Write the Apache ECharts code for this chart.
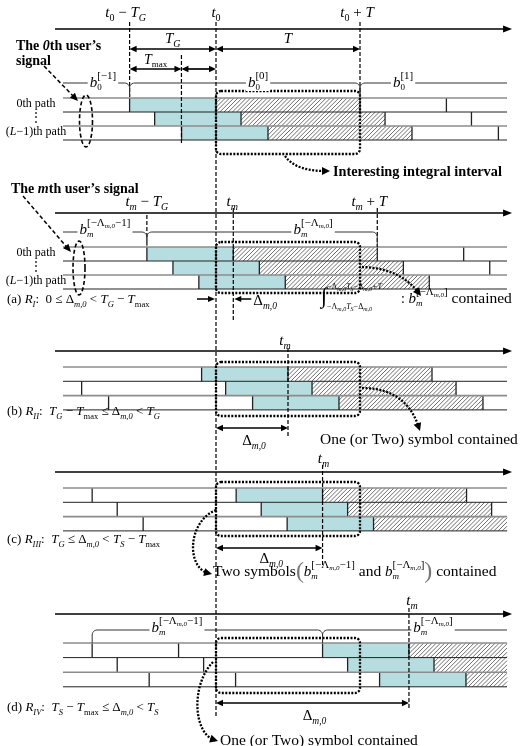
<!DOCTYPE html>
<html>
<head>
<meta charset="utf-8">
<script src="https://cdn.jsdelivr.net/npm/echarts@6/dist/echarts.min.js"></script>
<style>
html,body{margin:0;padding:0;background:#fff;}
#chart{width:520px;height:746px;}
</style>
</head>
<body>
<div id="chart"></div>
<script>
// ---------- values (time unit: T = 1, origin at t0) ----------
const T = 1.0;          // useful symbol (data) length
const TG = 0.6;         // guard interval
const Tmax = 0.36;      // maximum path delay
const TS = TG + T;      // symbol period
const panelIds = [0, 1, 2, 3, 4];                 // 0th user, (a)..(d)
const deltas = [0, 0.12, 0.5, 0.74, 1.34];        // Δm,0 = t_m − t_0 of each panel
const pathDelays = [                               // delays of 0th, middle, (L−1)th path
  [0, 0.174, 0.361],
  [0, 0.181, 0.361],
  [0, 0.167, 0.354],
  [0, 0.174, 0.354],
  [0, 0.174, 0.396]
];
const integralInterval = [0, T];                  // interesting integral interval (relative to t0)
const pathLabels = ['0th path', '\u22EE', '(L\u22121)th path'];
const regionTags = ['', '(a)', '(b)', '(c)', '(d)'];
const regionNames = ['', 'I', 'II', 'III', 'IV'];

// ---------- layout & style ----------
const X_RANGE = [-1.5, 304 / 144];
const ROW_SPAN = [-1.0625, 2.021];
const AXIS_SPAN = [-1.118, 2.056];
const CYAN = '#b6dde0';
const LAYOUT = [
  { axisY: 29, labY: 13, rowTop: 98, rowH: 14, box: [91, 154], labDx: [-4, 0, -3] },
  { axisY: 213, labY: 202, rowTop: 247, rowH: 14, box: [242, 293], labDx: [0, -1, -8], regY: 300 },
  { axisY: 351, labY: 341, rowTop: 367, rowH: 14.3, box: [362, 416], labDx: [-3], tmLine: [348, 438], dY: 428, regY: 412 },
  { axisY: 472, labY: 459, rowTop: 488, rowH: 14.3, box: [482, 536], labDx: [1], tmLine: [465, 565], dY: 548, regY: 540 },
  { axisY: 614, labY: 601, rowTop: 643, rowH: 14.6, box: [638, 693], labDx: [3], tmLine: [608, 708], dY: 703, regY: 708 }
];

const SERIF = '"Liberation Serif","Times New Roman",serif';
const mctx = document.createElement('canvas').getContext('2d');
function fnt(sz, it, bd) { return (it ? 'italic ' : '') + (bd ? 'bold ' : '') + sz + 'px ' + SERIF; }
function tw(s, f) { mctx.font = f; return mctx.measureText(s).width; }
function seqLayout(items, dx0, out) {
  let w = 0;
  for (const it of items) {
    if (it.stack) {
      let mw = 0;
      for (const s of it.stack) mw = Math.max(mw, seqLayout(s, dx0 + w, out));
      w += mw;
    } else {
      const f = fnt(it[1], it[2], it[4]);
      out.push({ text: it[0], font: f, dx: dx0 + w, dy: it[3] || 0, fill: it[5] || '#000' });
      w += tw(it[0], f);
    }
  }
  return w;
}
function inline(x, y, items, align, bg) {
  const out = [];
  const w = seqLayout(items, 0, out);
  const x0 = align === 'center' ? x - w / 2 : align === 'right' ? x - w : x;
  const els = [];
  if (bg) els.push({ type: 'rect', shape: { x: x0 - 2, y: y - bg[0], width: w + 4, height: bg[0] + bg[1] }, style: { fill: '#fff' } });
  for (const o of out) els.push({ type: 'text', x: x0 + o.dx, y: y + o.dy, style: { text: o.text, font: o.font, fill: o.fill, align: 'left', verticalAlign: 'middle' } });
  return els;
}
const it = (s, z) => [s, z, true];
const rm = (s, z) => [s, z, false];
function tLabel(s, sIt, kind) {
  const a = [it('t', 15), [s, 10, sIt, 5]];
  if (kind === '-TG') a.push(rm(' \u2212 ', 15), it('T', 15), ['G', 10, true, 5]);
  if (kind === '+T') a.push(rm(' + ', 15), it('T', 15));
  return a;
}
const supNum = s => [['[' + s + ']', 11, false, -7]];
const supLam = tail => [['[\u2212\u039B', 11, false, -7], ['m,0', 7, true, -4], [tail + ']', 11, false, -7]];
function bSym(sub, subIt, supSeq) { return [it('b', 15), { stack: [[[sub, 9, subIt, 5]], supSeq] }]; }
const S = 13;
const R = s => rm(s, S), Ii = s => it(s, S), sbI = s => [s, 8.5, true, 4.5], sbR = s => [s, 8.5, false, 4.5];
const Dm0 = [R('\u0394'), sbI('m,0')];
const TGi = [Ii('T'), sbI('G')], TSi = [Ii('T'), sbI('S')], TMX = [Ii('T'), sbR('max')];
const regionItems = [
  null,
  [R('(a) '), Ii('R'), sbI('I'), R(':  0 \u2264 '), ...Dm0, R(' < '), ...TGi, R(' \u2212 '), ...TMX],
  [R('(b) '), Ii('R'), sbI('II'), R(':  '), ...TGi, R(' \u2212 '), ...TMX, R(' \u2264 '), ...Dm0, R(' < '), ...TGi],
  [R('(c) '), Ii('R'), sbI('III'), R(':  '), ...TGi, R(' \u2264 '), ...Dm0, R(' < '), ...TSi, R(' \u2212 '), ...TMX],
  [R('(d) '), Ii('R'), sbI('IV'), R(':  '), ...TSi, R(' \u2212 '), ...TMX, R(' \u2264 '), ...Dm0, R(' < '), ...TSi]
];
const DeltaLab = [rm('\u0394', 15), ['m,0', 9.5, true, 5]];

function ln(x1, y1, x2, y2, c, w, dash) {
  const st = { stroke: c || '#000', lineWidth: w || 1 };
  if (dash) st.lineDash = dash;
  return { type: 'line', shape: { x1, y1, x2, y2 }, style: st };
}
function dashV(x, y1, y2) { return ln(x, y1, x, y2, '#000', 1.2, [4, 2]); }
function head(tip, from, len, hw) {
  const dx = tip[0] - from[0], dy = tip[1] - from[1], d = Math.hypot(dx, dy) || 1;
  const ux = dx / d, uy = dy / d, bx = tip[0] - ux * len, by = tip[1] - uy * len;
  return { type: 'polygon', shape: { points: [tip, [bx - uy * hw, by + ux * hw], [bx + uy * hw, by - ux * hw]] }, style: { fill: '#000' } };
}
function dimArrow(els, xa, xb, y) {
  els.push(ln(xa + 5, y, xb - 5, y, '#000', 1.7));
  els.push(head([xa, y], [xb, y], 7, 3.2));
  els.push(head([xb, y], [xa, y], 7, 3.2));
}
function qbez(p0, c, p1, n) {
  const pts = [];
  for (let i = 0; i <= n; i++) { const u = i / n, v = 1 - u; pts.push([v * v * p0[0] + 2 * v * u * c[0] + u * u * p1[0], v * v * p0[1] + 2 * v * u * c[1] + u * u * p1[1]]); }
  return pts;
}
function cbez(p0, c1, c2, p1, n) {
  const pts = [];
  for (let i = 0; i <= n; i++) {
    const u = i / n, v = 1 - u;
    pts.push([v * v * v * p0[0] + 3 * v * v * u * c1[0] + 3 * v * u * u * c2[0] + u * u * u * p1[0],
              v * v * v * p0[1] + 3 * v * v * u * c1[1] + 3 * v * u * u * c2[1] + u * u * u * p1[1]]);
  }
  return pts;
}
function dottedArrow(els, pts) {
  const n = pts.length, tip = pts[n - 1], prev = pts[n - 3];
  els.push({ type: 'polyline', shape: { points: pts.slice(0, n - 1) }, style: { stroke: '#000', lineWidth: 2.3, lineDash: [2, 1.5], fill: 'none' } });
  els.push(head(tip, prev, 8, 4));
}
function dashArrow(els, from, tip) {
  const dx = tip[0] - from[0], dy = tip[1] - from[1], d = Math.hypot(dx, dy);
  els.push(ln(from[0], from[1], tip[0] - dx / d * 6, tip[1] - dy / d * 6, '#000', 1.5, [4, 2.5]));
  els.push(head(tip, from, 8, 3.5));
}
function ellipse(els, cx, cy, rx, ry) {
  const pts = [];
  for (let i = 0; i < 60; i++) { const a = i / 60 * Math.PI * 2; pts.push([cx + rx * Math.cos(a), cy + ry * Math.sin(a)]); }
  els.push({ type: 'polygon', shape: { points: pts }, style: { fill: 'none', stroke: '#000', lineWidth: 1.6, lineDash: [4, 2.5] } });
}
function hatch(els, x1, y1, x2, y2) {
  els.push({ type: 'rect', shape: { x: x1, y: y1, width: x2 - x1, height: y2 - y1 }, style: { fill: '#fff' } });
  const sp = 4.2;
  for (let c = Math.ceil((x1 + y1) / sp) * sp; c < x2 + y2; c += sp) {
    const ya = Math.max(y1, c - x2), yb = Math.min(y2, c - x1);
    if (yb - ya > 0.3) els.push({ type: 'line', shape: { x1: c - ya, y1: ya, x2: c - yb, y2: yb }, style: { stroke: '#555', lineWidth: 0.85 } });
  }
}
function brace(els, xa, xb, y, depth, lc, rc) {
  const r = 5, pts = [];
  if (lc) {
    pts.push([xa, y + depth]);
    for (let i = 0; i <= 6; i++) { const th = Math.PI + i / 6 * Math.PI / 2; pts.push([xa + r + r * Math.cos(th), y + r + r * Math.sin(th)]); }
  } else pts.push([xa, y]);
  if (rc) {
    for (let i = 0; i <= 6; i++) { const th = -Math.PI / 2 + i / 6 * Math.PI / 2; pts.push([xb - r + r * Math.cos(th), y + r + r * Math.sin(th)]); }
    pts.push([xb, y + depth]);
  } else pts.push([xb, y]);
  els.push({ type: 'polyline', shape: { points: pts }, style: { stroke: '#333', lineWidth: 1, fill: 'none' } });
}

function renderPanel(params, api) {
  const tm = api.value(0);
  const p = api.value(1);
  const lay = LAYOUT[p];
  const X = t => api.coord([t, 0])[0];
  const Y = v => api.coord([0, v])[1];
  const els = [];
  const xL = X(ROW_SPAN[0]), xR = X(ROW_SPAN[1]);
  const rowY = i => Y(lay.rowTop + i * lay.rowH);
  // symbol blocks of the three paths
  for (let l = 0; l < 3; l++) {
    const y0 = rowY(l), y1 = rowY(l + 1);
    const s0 = tm + pathDelays[p][l];
    const a = Math.max(X(s0 - TG), xL), b = Math.min(X(s0), xR);
    if (b > a) els.push({ type: 'rect', shape: { x: a, y: y0, width: b - a, height: y1 - y0 }, style: { fill: CYAN } });
    const c = Math.max(X(s0), xL), d = Math.min(X(s0 + T), xR);
    if (d > c) hatch(els, c, y0, d, y1);
    for (let k = -3; k <= 3; k++) {
      [s0 + k * TS - TG, s0 + k * TS].forEach(tb => {
        const xb = X(tb);
        if (xb > xL + 2 && xb < xR - 2) els.push(ln(xb, y0, xb, y1, '#222', 1.3));
      });
    }
  }
  for (let i = 0; i <= 3; i++) {
    const y = rowY(i);
    els.push(ln(xL, y, xR, y, i % 2 ? '#222' : '#8c8c8c', i % 2 ? 1 : 1.6));
  }
  // time axis
  const ay = Y(lay.axisY);
  els.push(ln(X(AXIS_SPAN[0]), ay, X(AXIS_SPAN[1]) - 6, ay, '#000', 1.5));
  els.push(head([X(AXIS_SPAN[1]), ay], [X(AXIS_SPAN[0]), ay], 9, 3.5));
  // interesting integral interval box
  const bx0 = X(integralInterval[0]), bx1 = X(integralInterval[1]);
  els.push({ type: 'rect', shape: { x: bx0, y: Y(lay.box[0]), width: bx1 - bx0, height: Y(lay.box[1]) - Y(lay.box[0]), r: 5 },
    style: { fill: 'none', stroke: '#000', lineWidth: 2.3, lineDash: [2, 1.5] } });

  if (p === 0) {
    const marks = [-TG, 0, T];
    const labs = [tLabel('0', false, '-TG'), tLabel('0', false, ''), tLabel('0', false, '+T')];
    marks.forEach((m, i) => els.push(...inline(X(m) + lay.labDx[i], Y(lay.labY), labs[i], 'center')));
    els.push(dashV(X(-TG), Y(22), Y(97)));
    els.push(dashV(X(T), Y(22), Y(97)));
    els.push(dashV(X(-TG + Tmax), Y(55), Y(145)));
    dimArrow(els, X(-TG), X(0), Y(49));
    dimArrow(els, X(0), X(T), Y(49));
    dimArrow(els, X(-TG), X(-TG + Tmax), Y(69));
    dimArrow(els, X(-TG + Tmax), X(0), Y(69));
    els.push(...inline((X(-TG) + X(0)) / 2, Y(39), [it('T', 15), ['G', 10, true, 5]], 'center'));
    els.push(...inline((X(0) + X(T)) / 2, Y(39), [it('T', 15)], 'center'));
    els.push(...inline((X(-TG) + X(-TG + Tmax)) / 2, Y(60), [it('T', 14), ['max', 9, false, 5]], 'center'));
    brace(els, xL, X(-TG), Y(83), 14, false, true);
    brace(els, X(-TG), X(T), Y(83), 14, true, true);
    brace(els, X(T), xR, Y(83), 14, true, false);
    els.push(...inline(X(-0.785), Y(83), bSym('0', false, supNum('\u22121')), 'center', [5, 8]));
    els.push(...inline(X(0.292), Y(83), bSym('0', false, supNum('0')), 'center', [5, 8]));
    els.push(...inline(X(1.299), Y(83), bSym('0', false, supNum('1')), 'center', [5, 8]));
    dottedArrow(els, qbez([285, 156], [296, 172], [330, 171], 16));
    els.push(...inline(333, 172, [['Interesting integral interval', 14.3, false, 0, true]], 'left'));
  }
  if (p === 1) {
    const marks = [tm - TG, tm, tm + T];
    const labs = [tLabel('m', true, '-TG'), tLabel('m', true, ''), tLabel('m', true, '+T')];
    marks.forEach((m, i) => els.push(...inline(X(m) + lay.labDx[i], Y(lay.labY), labs[i], 'center')));
    els.push(dashV(X(tm - TG), Y(215), Y(238)));
    els.push(dashV(X(tm), Y(208), Y(320)));
    els.push(dashV(X(tm + T), Y(208), Y(247)));
    brace(els, xL, X(tm - TG), Y(232), 13, false, true);
    brace(els, X(tm - TG), X(tm + T), Y(232), 14, true, true);
    els.push(...inline(X(-0.771), Y(230), bSym('m', true, supLam('\u22121')), 'center', [5, 7]));
    els.push(...inline(X(0.674), Y(230), bSym('m', true, supLam('')), 'center', [5, 7]));
    els.push(...inline(7, Y(lay.regY), regionItems[1], 'left'));
    const ry = Y(299);
    els.push(ln(X(0) - 19, ry, X(0) - 6, ry, '#000', 1.5)); els.push(head([X(0) - 1, ry], [X(0) - 19, ry], 7, 3));
    els.push(ln(X(tm) + 18, ry, X(tm) + 6, ry, '#000', 1.5)); els.push(head([X(tm) + 1, ry], [X(tm) + 18, ry], 7, 3));
    els.push(...inline(X(tm) + 20, Y(301), DeltaLab, 'left'));
    const lim = dy => [['\u2212\u039B', 8, false, dy], ['m,0', 6, true, dy + 2], ['T', 8, true, dy], ['S', 6, true, dy + 2], ['\u2212\u0394', 8, false, dy], ['m,0', 6, true, dy + 2]];
    els.push(...inline(321, Y(297), [['\u222B', 22, false, 0], { stack: [lim(-10).concat([['+T', 8, true, -10]]), lim(10)] }], 'left'));
    els.push(...inline(401, Y(299), [rm(': ', 14), ...bSym('m', true, supLam('')), rm(' contained', 15.5)], 'left'));
    dottedArrow(els, qbez([362, 267], [402, 268], [421, 296], 16));
  }
  if (p >= 2) {
    els.push(...inline(X(tm) + lay.labDx[0], Y(lay.labY), tLabel('m', true, ''), 'center'));
    els.push(dashV(X(tm), Y(lay.tmLine[0]), Y(lay.tmLine[1])));
    dimArrow(els, X(0), X(tm), Y(lay.dY));
    els.push(...inline((X(0) + X(tm)) / 2 + 2, Y(lay.dY + (p === 3 ? 11 : 13)), DeltaLab, 'center'));
    els.push(...inline(7, Y(lay.regY), regionItems[p], 'left'));
  }
  if (p === 2) {
    dottedArrow(els, qbez([362, 388], [408, 388], [420, 431], 16));
    els.push(...inline(320, Y(440), [rm('One (or Two) symbol contained', 15.5)], 'left'));
  }
  if (p === 3) {
    dottedArrow(els, cbez([216, 510], [186, 522], [186, 572], [212, 574], 24));
    els.push(...inline(213, Y(572), [rm('Two symbols', 15.5), ['(', 24, false, 0, false, '#777'], ...bSym('m', true, supLam('\u22121')),
      rm(' and ', 15.5), ...bSym('m', true, supLam('')), [')', 24, false, 0, false, '#777'], rm(' contained', 15.5)], 'left'));
  }
  if (p === 4) {
    const s0 = tm + pathDelays[4][0];
    brace(els, X(s0 - TG - TS), X(s0 - TG), Y(630), 13, true, true);
    brace(els, X(s0 - TG), xR, Y(630), 13, true, false);
    els.push(...inline(X(-0.271), Y(628), bSym('m', true, supLam('\u22121')), 'center', [5, 7]));
    els.push(...inline(X(1.507), Y(628), bSym('m', true, supLam('')), 'center', [5, 7]));
    dottedArrow(els, cbez([213, 662], [190, 685], [193, 738], [218, 741], 24));
    els.push(...inline(220, Y(741), [rm('One (or Two) symbol contained', 15.5)], 'left'));
  }
  return { type: 'group', children: els };
}

function renderNotes(params, api) {
  const X = t => api.coord([t, 0])[0];
  const Y = v => api.coord([0, v])[1];
  const els = [];
  els.push(dashV(X(0), Y(22), Y(718)));
  const B = (s, i) => [s, 14, !!i, 0, true];
  els.push(...inline(16, Y(46), [B('The '), B('0', 1), B('th user\u2019s')], 'left'));
  els.push(...inline(16, Y(61), [B('signal')], 'left'));
  dashArrow(els, [44, 66], [78, 101]);
  ellipse(els, 86, 121, 6.5, 26);
  els.push(...inline(11, Y(189), [B('The '), B('m', 1), B('th user\u2019s signal')], 'left'));
  dashArrow(els, [23, 196], [71, 252]);
  ellipse(els, 79, 268, 6, 27);
  [0, 1].forEach(p => {
    const lay = LAYOUT[p];
    pathLabels.forEach((s, l) => {
      const yc = lay.rowTop + (l + 0.5) * lay.rowH - 1;
      const items = l === 2 ? [rm('(', 12), it('L', 12), rm('\u22121)th path', 12)] : [rm(s, 12)];
      els.push(...inline(36, Y(yc), items, 'center'));
    });
  });
  return { type: 'group', children: els };
}

const chart = echarts.init(document.getElementById('chart'), null, { renderer: 'canvas', width: 520, height: 746 });
chart.setOption({
  animation: false,
  backgroundColor: '#fff',
  grid: { left: 0, right: 0, top: 0, bottom: 0 },
  xAxis: { type: 'value', min: X_RANGE[0], max: X_RANGE[1], show: false },
  yAxis: { type: 'value', min: 0, max: 746, inverse: true, show: false },
  series: [
    { type: 'custom', renderItem: renderPanel, data: panelIds.map(i => [deltas[i], i]), silent: true, z: 2 },
    { type: 'custom', renderItem: renderNotes, data: [[0, 0]], silent: true, z: 3 }
  ]
});
</script>
</body>
</html>
